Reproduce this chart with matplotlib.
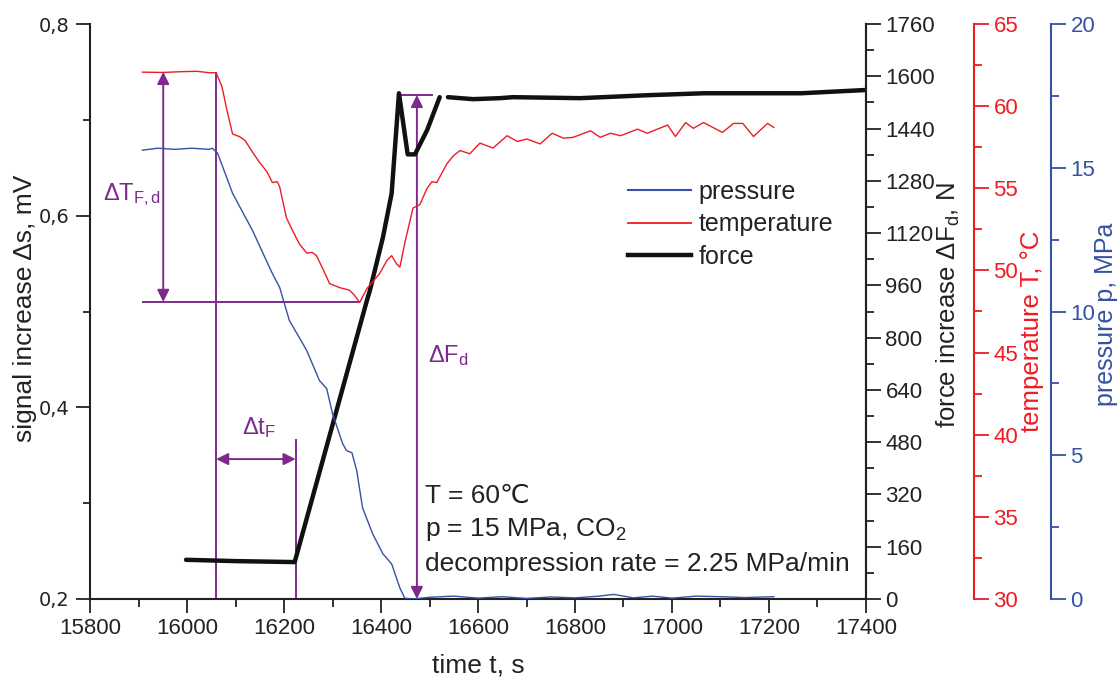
import numpy as np
import matplotlib.pyplot as plt
from matplotlib.ticker import MultipleLocator, FuncFormatter
from matplotlib.lines import Line2D

plt.rcParams['font.family'] = ['Liberation Sans', 'DejaVu Sans']
plt.rcParams['mathtext.fontset'] = 'custom'
plt.rcParams['mathtext.rm'] = 'Liberation Sans'
plt.rcParams['mathtext.it'] = 'Liberation Sans'

RED = '#ee1c24'
BLUE = '#3552a3'
PURPLE = '#7d2a8c'
INK = '#222222'

# temperature, degC
t_temp = [15908, 15950, 15990, 16020, 16045, 16060, 16072, 16082, 16094, 16108,
          16120, 16135, 16149, 16165, 16176, 16186, 16191, 16205, 16218, 16232,
          16247, 16258, 16267, 16280, 16294, 16315, 16335, 16345, 16356, 16371,
          16397, 16412, 16422, 16432, 16439, 16450, 16466, 16480, 16495, 16505,
          16515, 16536, 16550, 16563, 16583, 16604, 16631, 16660, 16681, 16701,
          16728, 16753, 16776, 16796, 16832, 16852, 16873, 16894, 16929, 16949,
          16991, 17007, 17028, 17044, 17065, 17104, 17127, 17146, 17168, 17197, 17210]
temp = [62.07, 62.05, 62.10, 62.12, 62.04, 62.03, 61.2, 59.8, 58.3, 58.15,
        57.9, 57.2, 56.6, 56.0, 55.35, 55.4, 55.1, 53.2, 52.4, 51.6,
        51.05, 51.1, 50.9, 50.1, 49.2, 48.95, 48.8, 48.5, 48.05, 48.9,
        49.8, 50.6, 50.9, 50.4, 50.2, 51.8, 53.8, 54.0, 55.0, 55.4,
        55.35, 56.5, 57.0, 57.3, 57.1, 57.75, 57.45, 58.2, 57.85, 58.0,
        57.7, 58.35, 58.05, 58.1, 58.5, 58.1, 58.35, 58.2, 58.6, 58.35,
        58.85, 58.15, 59.0, 58.65, 59.0, 58.4, 58.95, 58.95, 58.15, 58.95, 58.7]

# pressure, MPa
t_pres = [15908, 15940, 15975, 16010, 16045, 16052, 16063, 16094, 16135, 16176,
          16191, 16211, 16247, 16273, 16288, 16300, 16321, 16329, 16340, 16350,
          16362, 16383, 16404, 16422, 16439, 16449, 16466, 16500, 16550, 16600,
          16650, 16700, 16750, 16800, 16850, 16880, 16920, 16960, 17000, 17050,
          17100, 17150, 17210]
pres = [15.61, 15.68, 15.64, 15.68, 15.64, 15.68, 15.51, 14.11, 12.82, 11.32,
        10.84, 9.69, 8.64, 7.60, 7.32, 6.45, 5.40, 5.16, 5.09, 4.46,
        3.17, 2.26, 1.57, 1.22, 0.38, 0.03, 0.0, 0.06, 0.1, 0.03,
        0.08, 0.02, 0.07, 0.04, 0.1, 0.16, 0.04, 0.1, 0.03, 0.1,
        0.08, 0.05, 0.08]

# force increase, N (gap between the two recorded pieces)
t_force = [15998, 16100, 16222, 16371, 16377, 16404, 16422, 16437, 16455, 16470,
           16495, 16521, np.nan, 16538, 16590, 16645, 16672, 16811, 16949, 17065,
           17266, 17400]
force = [120, 116, 113, 914, 944, 1107, 1242, 1548, 1361, 1361,
         1435, 1536, np.nan, 1536, 1530, 1533, 1536, 1533, 1542, 1548,
         1548, 1558]

fig = plt.figure(figsize=(11.19, 6.81), dpi=100)
ax = fig.add_axes([90 / 1119, 1 - 599 / 681, 776 / 1119, 575 / 681])
axF = ax.twinx()
axT = ax.twinx()
axP = ax.twinx()

ax.set_xlim(15800, 17400)
ax.set_ylim(0.2, 0.8)
axF.set_ylim(0, 1760)
axT.set_ylim(30, 65)
axP.set_ylim(0, 20)

axP.plot(t_pres, pres, color=BLUE, lw=1.0)
axT.plot(t_temp, temp, color=RED, lw=1.0)
axF.plot(t_force, force, color='#111111', lw=3.2, solid_capstyle='round')

# spines
for a in (ax, axF, axT, axP):
    a.spines['top'].set_visible(False)
for a in (axF, axT, axP):
    a.spines['left'].set_visible(False)
    a.spines['bottom'].set_visible(False)
axT.spines['right'].set_position(('axes', 884 / 776))
axP.spines['right'].set_position(('axes', 961 / 776))
for a, c in ((ax, INK), (axF, INK), (axT, RED), (axP, BLUE)):
    for s in a.spines.values():
        s.set_linewidth(1.5)
        s.set_color(c)

ax.xaxis.set_major_locator(MultipleLocator(200))
ax.xaxis.set_minor_locator(MultipleLocator(100))
ax.yaxis.set_major_locator(MultipleLocator(0.2))
ax.yaxis.set_minor_locator(MultipleLocator(0.1))
ax.yaxis.set_major_formatter(FuncFormatter(lambda v, p: f'{v:.1f}'.replace('.', ',')))
axF.yaxis.set_major_locator(MultipleLocator(160))
axF.yaxis.set_minor_locator(MultipleLocator(80))
axT.yaxis.set_major_locator(MultipleLocator(5))
axT.yaxis.set_minor_locator(MultipleLocator(2.5))
axP.yaxis.set_major_locator(MultipleLocator(5))
axP.yaxis.set_minor_locator(MultipleLocator(2.5))

ax.tick_params(axis='x', which='major', length=10, width=1.3, labelsize=16, pad=4,
               color=INK, labelcolor=INK)
ax.tick_params(axis='x', which='minor', length=6, width=1.3, color=INK)
ax.tick_params(axis='y', which='major', length=10, width=1.3, labelsize=14, pad=5,
               color=INK, labelcolor=INK)
ax.tick_params(axis='y', which='minor', length=5, width=1.3, color=INK)
for lab in ax.get_yticklabels():
    lab.set_family('DejaVu Sans')
for a, c in ((axF, INK), (axT, RED), (axP, BLUE)):
    a.tick_params(axis='y', which='major', length=11, width=1.3, labelsize=16, pad=3,
                  color=c, labelcolor=c)
    a.tick_params(axis='y', which='minor', length=6, width=1.3, color=c)

# axis titles
fig.text(25 / 1119, 1 - 308 / 681, 'signal increase \u0394s, mV', rotation=90,
         ha='center', va='center', fontsize=19, color=INK)
fig.text(478 / 1119, 1 - 665 / 681, 'time t, s', ha='center', va='center',
         fontsize=19, color=INK)
fig.text(948 / 1119, 1 - 305 / 681, 'force increase \u0394F$_{\\rm d}$, N', rotation=90,
         ha='center', va='center', fontsize=18.5, color=INK)
fig.text(1032 / 1119, 1 - 331 / 681, 'temperature T, \u00b0C', rotation=90,
         ha='center', va='center', fontsize=18.5, color=RED)
fig.text(1106 / 1119, 1 - 314 / 681, 'pressure p, MPa', rotation=90,
         ha='center', va='center', fontsize=18, color=BLUE)

# purple annotations (signal axis units)
arr = dict(arrowstyle='<|-|>', color=PURPLE, lw=1.4, mutation_scale=18,
           shrinkA=0, shrinkB=0)
ax.vlines(16060, 0.2, 0.75, color=PURPLE, lw=1.4)
ax.vlines(16224, 0.2, 0.367, color=PURPLE, lw=1.4)
ax.hlines(0.51, 15908, 16356, color=PURPLE, lw=1.4)
ax.hlines(0.726, 16437, 16507, color=PURPLE, lw=1.4)
ax.annotate('', xy=(15951, 0.51), xytext=(15951, 0.75), arrowprops=arr)
ax.annotate('', xy=(16060, 0.346), xytext=(16224, 0.346), arrowprops=arr)
ax.annotate('', xy=(16474, 0.2), xytext=(16474, 0.726), arrowprops=arr)
ax.text(15827, 0.616, '\u0394T$_{\\rm F,d}$', color=PURPLE, fontsize=17)
ax.text(16114, 0.372, '\u0394t$_{\\rm F}$', color=PURPLE, fontsize=17)
ax.text(16497, 0.447, '\u0394F$_{\\rm d}$', color=PURPLE, fontsize=17)

ax.text(16490, 0.2 + 96 * 0.6 / 575, 'T = 60\u2103', fontsize=19, color=INK)
ax.text(16490, 0.2 + 63 * 0.6 / 575, 'p = 15 MPa, CO$_{\\rm 2}$', fontsize=19, color=INK)
ax.text(16490, 0.2 + 28 * 0.6 / 575, 'decompression rate = 2.25 MPa/min', fontsize=19,
        color=INK)

# legend
handles = [Line2D([], [], color=BLUE, lw=1.5), Line2D([], [], color=RED, lw=1.3),
           Line2D([], [], color='#111111', lw=3.2)]
axF.legend(handles, ['pressure', 'temperature', 'force'], frameon=False, fontsize=18,
           loc='upper left', bbox_to_anchor=(628 / 1119, 1 - 180 / 681),
           bbox_transform=fig.transFigure, handlelength=2.5, handletextpad=0.32,
           labelspacing=0.33, borderpad=0, borderaxespad=0, labelcolor=INK)

fig.savefig('out.png', dpi=100)
